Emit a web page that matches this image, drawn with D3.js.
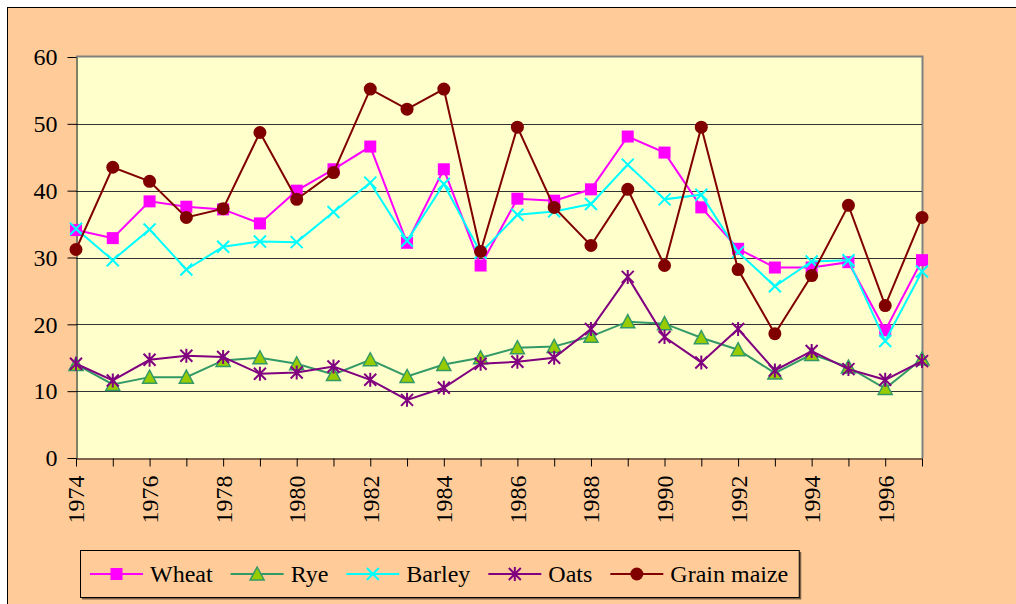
<!DOCTYPE html>
<html>
<head>
    <title>Cereal yields 1974-1997</title>
    <script src="https://d3js.org/d3.v7.min.js"></script>
    <style>
        body {
            margin: 0;
            background-color: #FFFFFF;
        }
        svg text {
            font-family: "Liberation Serif", "Times New Roman", Times, serif;
        }
    </style>
</head>
<body>
    <div id="chart"></div>

    <script>
        // Data
        var years = [1974, 1975, 1976, 1977, 1978, 1979, 1980, 1981, 1982, 1983, 1984, 1985,
                     1986, 1987, 1988, 1989, 1990, 1991, 1992, 1993, 1994, 1995, 1996, 1997];
        var wheat = [34.1, 32.9, 38.4, 37.6, 37.2, 35.1, 40.0, 43.2, 46.6, 32.2, 43.2, 28.8,
                     38.8, 38.5, 40.2, 48.1, 45.7, 37.5, 31.3, 28.5, 28.5, 29.3, 19.1, 29.6];
        var rye = [14.0, 11.0, 12.1, 12.1, 14.6, 15.0, 14.1, 12.5, 14.7, 12.2, 14.0, 15.0,
                   16.5, 16.7, 18.2, 20.4, 20.1, 18.0, 16.2, 12.7, 15.5, 13.6, 10.4, 14.8];
        var barley = [34.3, 29.6, 34.2, 28.2, 31.6, 32.4, 32.3, 36.8, 41.2, 32.5, 41.0, 30.7,
                      36.4, 36.9, 38.0, 43.9, 38.7, 39.4, 30.8, 25.7, 29.4, 29.6, 17.5, 27.9];
        var oats = [14.1, 11.6, 14.7, 15.3, 15.1, 12.6, 12.8, 13.7, 11.7, 8.7, 10.5, 14.1,
                    14.4, 15.0, 19.3, 27.1, 18.1, 14.3, 19.3, 13.1, 16.0, 13.3, 11.7, 14.5];
        var maize = [31.2, 43.5, 41.4, 36.0, 37.3, 48.7, 38.7, 42.7, 55.2, 52.2, 55.2, 30.9,
                     49.5, 37.5, 31.8, 40.2, 28.8, 49.5, 28.2, 18.6, 27.3, 37.8, 22.8, 36.0];
        var yTicks = [0, 10, 20, 30, 40, 50, 60];

        var series = [
            { name: "Wheat", values: wheat, color: "#FF00FF", marker: "square" },
            { name: "Rye", values: rye, color: "#339966", marker: "triangle" },
            { name: "Barley", values: barley, color: "#00FFFF", marker: "cross" },
            { name: "Oats", values: oats, color: "#800080", marker: "star" },
            { name: "Grain maize", values: maize, color: "#800000", marker: "circle" }
        ];

        var W = 1016, H = 604;
        var plot = { left: 76, right: 922, top: 57, bottom: 458 };
        var serifFont = "'Liberation Serif', 'Times New Roman', Times, serif";

        var svg = d3.select("#chart")
            .append("svg")
            .attr("width", W)
            .attr("height", H);

        // Chart area
        svg.append("rect")
            .attr("x", 7.5).attr("y", 7.5)
            .attr("width", W).attr("height", H)
            .attr("fill", "#FFCC99")
            .attr("stroke", "#000");

        var x = d3.scaleLinear()
            .domain([years[0], years[years.length - 1]])
            .range([plot.left, plot.right]);

        var y = d3.scaleLinear()
            .domain([0, 60])
            .range([plot.bottom, plot.top]);

        // Plot area
        svg.append("rect")
            .attr("x", plot.left).attr("y", plot.top)
            .attr("width", plot.right - plot.left)
            .attr("height", plot.bottom - plot.top)
            .attr("fill", "#FFFFCC");

        svg.append("path")
            .attr("d", "M" + plot.left + "," + (plot.top - 0.5) + "H" + (plot.right + 0.5) + "V" + plot.bottom)
            .attr("fill", "none")
            .attr("stroke", "#808080")
            .attr("stroke-width", 2);

        // Gridlines
        svg.append("g")
            .selectAll("line")
            .data(yTicks.filter(function (d) { return d > 0 && d < 60; }))
            .join("line")
            .attr("x1", plot.left).attr("x2", plot.right)
            .attr("y1", function (d) { return Math.round(y(d)) + 0.5; })
            .attr("y2", function (d) { return Math.round(y(d)) + 0.5; })
            .attr("stroke", "#333");

        // Axes
        var yAxis = svg.append("g")
            .attr("transform", "translate(" + (plot.left + 0.5) + ",0)")
            .call(d3.axisLeft(y).tickValues(yTicks).tickSize(9).tickSizeOuter(0).tickPadding(10));

        var xAxis = svg.append("g")
            .attr("transform", "translate(0," + (plot.bottom + 0.5) + ")")
            .call(d3.axisBottom(x)
                .tickValues(years)
                .tickSize(8)
                .tickSizeOuter(0)
                .tickFormat(function (d) { return d % 2 === 0 ? d : ""; }));

        xAxis.selectAll("text")
            .attr("transform", "rotate(-90)")
            .attr("x", -17)
            .attr("y", 0)
            .attr("dy", "0.33em")
            .style("text-anchor", "end");

        [yAxis, xAxis].forEach(function (a) {
            a.attr("font-family", serifFont).attr("font-size", 24);
            a.selectAll("text")
                .attr("fill", "#000")
                .style("font-size", "24px");
            a.selectAll("line").attr("stroke", "#000");
            a.select(".domain").attr("stroke", "#000");
        });

        // Marker drawing
        function drawMarker(g, type, color, cx, cy) {
            var s = 6;
            if (type === "square") {
                g.append("rect")
                    .attr("x", cx - s).attr("y", cy - s)
                    .attr("width", 2 * s).attr("height", 2 * s)
                    .attr("fill", color);
            } else if (type === "triangle") {
                g.append("path")
                    .attr("d", "M" + cx + "," + (cy - 7) + "L" + (cx + 7) + "," + (cy + 6) + "L" + (cx - 7) + "," + (cy + 6) + "Z")
                    .attr("fill", "#99CC00")
                    .attr("stroke", color)
                    .attr("stroke-width", 1.5);
            } else if (type === "cross") {
                g.append("path")
                    .attr("d", "M" + (cx - 6) + "," + (cy - 6) + "L" + (cx + 6) + "," + (cy + 6) +
                               "M" + (cx + 6) + "," + (cy - 6) + "L" + (cx - 6) + "," + (cy + 6))
                    .attr("stroke", color)
                    .attr("stroke-width", 2);
            } else if (type === "star") {
                g.append("path")
                    .attr("d", "M" + (cx - 6) + "," + (cy - 6) + "L" + (cx + 6) + "," + (cy + 6) +
                               "M" + (cx + 6) + "," + (cy - 6) + "L" + (cx - 6) + "," + (cy + 6) +
                               "M" + cx + "," + (cy - 7) + "L" + cx + "," + (cy + 7))
                    .attr("stroke", color)
                    .attr("stroke-width", 2);
            } else if (type === "circle") {
                g.append("circle")
                    .attr("cx", cx).attr("cy", cy)
                    .attr("r", 6.5)
                    .attr("fill", color);
            }
        }

        var line = d3.line()
            .x(function (d, i) { return x(years[i]); })
            .y(function (d) { return y(d); });

        // Series lines and markers
        series.forEach(function (s) {
            var g = svg.append("g");
            g.append("path")
                .datum(s.values)
                .attr("d", line)
                .attr("fill", "none")
                .attr("stroke", s.color)
                .attr("stroke-width", 2);
            s.values.forEach(function (v, i) {
                drawMarker(g, s.marker, s.color, x(years[i]), y(v));
            });
        });

        // Legend
        var legend = svg.append("g")
            .attr("font-family", serifFont);
        var legendShadow = legend.append("path")
            .attr("fill", "none")
            .attr("stroke", "#7a6048")
            .attr("stroke-width", 2);
        var legendBox = legend.append("rect")
            .attr("x", 80.5).attr("y", 550.5)
            .attr("height", 47)
            .attr("fill", "none")
            .attr("stroke", "#000");

        var lx = 90, ly = 574;
        series.forEach(function (s) {
            var item = legend.append("g");
            item.append("line")
                .attr("x1", lx).attr("x2", lx + 53)
                .attr("y1", ly).attr("y2", ly)
                .attr("stroke", s.color)
                .attr("stroke-width", 2);
            drawMarker(item, s.marker, s.color, lx + 26.5, ly);
            var t = item.append("text")
                .attr("x", lx + 60)
                .attr("y", ly)
                .attr("dy", "0.33em")
                .style("font-size", "24px")
                .text(s.name);
            lx = lx + 60 + t.node().getComputedTextLength() + 18;
        });
        var boxRight = lx - 18 + 11;
        legendBox.attr("width", boxRight - 80.5);
        legendShadow.attr("d", "M" + (boxRight + 1) + ",552V" + 598.5 + "H82");
    </script>
</body>
</html>
